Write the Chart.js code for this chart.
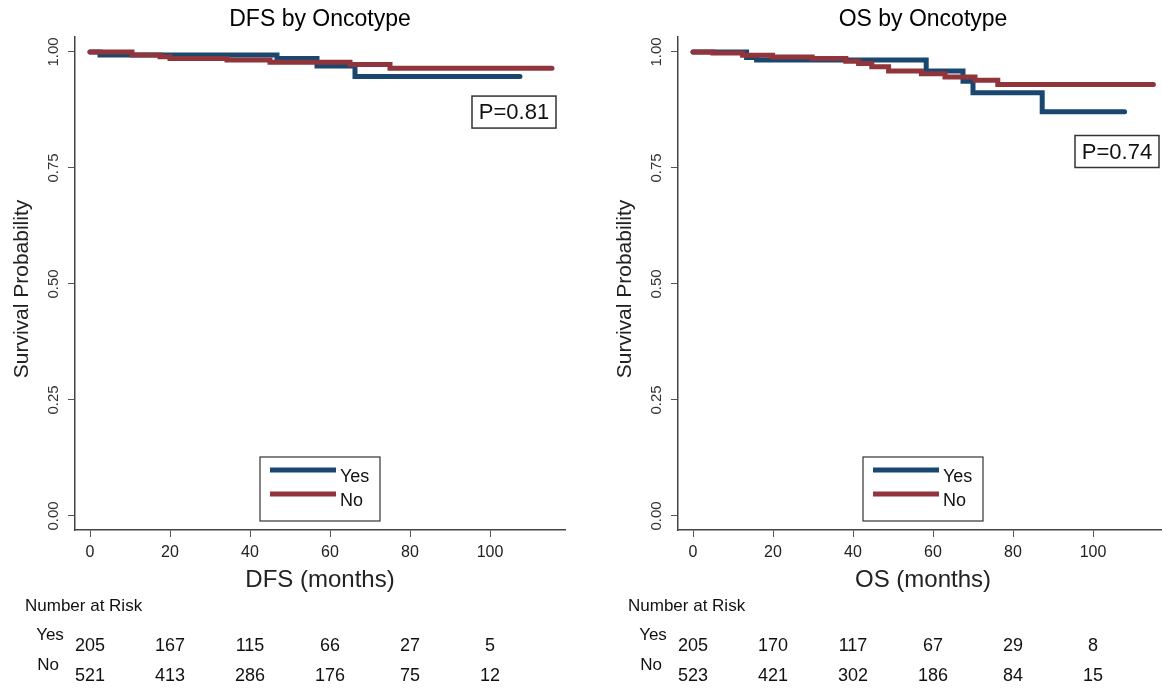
<!DOCTYPE html>
<html><head><meta charset="utf-8">
<script src="https://cdn.jsdelivr.net/npm/chart.js@4.4.1/dist/chart.umd.min.js"></script>
<style>
html,body{margin:0;padding:0;background:#fff;overflow:hidden;width:1162px;height:690px;position:relative}
.panel{position:absolute;top:0;width:600px;height:690px}
</style></head><body>
<div class="panel" style="left:0"><canvas id="c1" width="600" height="690"></canvas></div>
<div class="panel" style="left:603px"><canvas id="c2" width="600" height="690"></canvas></div>
<script>
// ---- data ----
const xTickVals = [0, 20, 40, 60, 80, 100];
const yTickVals = [0, 0.25, 0.5, 0.75, 1];
const riskTimes = [0, 20, 40, 60, 80, 100];
const groupNames = ['Yes', 'No'];

const dfsYesTime = [0, 2.5, 46.75, 56.75, 66.25, 107.5];
const dfsYesSurv = [1, 0.9935, 0.986, 0.970, 0.947, 0.947];
const dfsNoTime  = [0, 10.5, 17.5, 20, 34.25, 45, 65, 75, 115.5];
const dfsNoSurv  = [1, 0.9935, 0.990, 0.986, 0.983, 0.978, 0.973, 0.965, 0.965];

const osYesTime = [0, 13.4, 15.9, 58.3, 67.5, 70, 87.3, 107.9];
const osYesSurv = [1, 0.988, 0.983, 0.959, 0.937, 0.912, 0.871, 0.871];
const osNoTime  = [0, 5, 12.4, 19.9, 29.8, 38.2, 41.4, 44.7, 48.9, 57.1, 63, 70.5, 76.2, 115.1];
const osNoSurv  = [1, 0.998, 0.993, 0.989, 0.986, 0.980, 0.975, 0.968, 0.959, 0.953, 0.946, 0.939, 0.930, 0.930];

const dfsRiskYes = [205, 167, 115, 66, 27, 5];
const dfsRiskNo  = [521, 413, 286, 176, 75, 12];
const osRiskYes  = [205, 170, 117, 67, 29, 8];
const osRiskNo   = [523, 421, 302, 186, 84, 15];

const dfsP = 'P=0.81';
const osP  = 'P=0.74';

// ---- styling ----
const BLUE = '#1a476f';
const RED = '#90353b';
const FONT = '"Liberation Sans", Arial, sans-serif';

function pts(t, s) { return t.map((v, i) => ({ x: v, y: s[i] })); }

const decor = {
  id: 'kmDecor',
  afterDraw(chart) {
    const o = chart.options.plugins.kmDecor;
    const ctx = chart.ctx;
    const xs = chart.scales.x, ys = chart.scales.y;
    const ca = chart.chartArea;
    const cx = (ca.left + ca.right) / 2;
    ctx.save();
    // title
    ctx.fillStyle = '#000';
    ctx.font = '23px ' + FONT;
    ctx.textAlign = 'center';
    ctx.textBaseline = 'middle';
    ctx.fillText(o.title, cx, 20);
    // y tick labels (rotated)
    ctx.fillStyle = '#333';
    ctx.font = '15px ' + FONT;
    yTickVals.forEach(v => {
      const y = ys.getPixelForValue(v);
      ctx.save();
      ctx.translate(54, y);
      ctx.rotate(-Math.PI / 2);
      ctx.fillText(v.toFixed(2), 0, 0);
      ctx.restore();
    });
    // y axis title
    ctx.fillStyle = '#222';
    ctx.font = '21px ' + FONT;
    ctx.save();
    ctx.translate(22, 289);
    ctx.rotate(-Math.PI / 2);
    ctx.fillText('Survival Probability', 0, 0);
    ctx.restore();
    // x axis title
    ctx.font = '24px ' + FONT;
    ctx.fillText(o.xTitle, cx, 580);
    // P box
    const px = xs.getPixelForValue(95.5);
    const py = ys.getPixelForValue(o.pTop);
    ctx.fillStyle = '#fff';
    ctx.fillRect(px, py, 84, 32);
    ctx.strokeStyle = '#333';
    ctx.lineWidth = 1.5;
    ctx.strokeRect(px, py, 84, 32);
    ctx.fillStyle = '#111';
    ctx.font = '22px ' + FONT;
    ctx.fillText(o.pText, px + 42, py + 17);
    // legend
    const lw = 120, lh = 64;
    const lx = cx - lw / 2, ly = 457;
    ctx.fillStyle = '#fff';
    ctx.fillRect(lx, ly, lw, lh);
    ctx.strokeStyle = '#333';
    ctx.lineWidth = 1.2;
    ctx.strokeRect(lx, ly, lw, lh);
    const cols = [BLUE, RED];
    ctx.font = '18px ' + FONT;
    ctx.textAlign = 'left';
    groupNames.forEach((g, i) => {
      const yy = ly + 13 + i * 24;
      ctx.strokeStyle = cols[i];
      ctx.lineWidth = 5;
      ctx.beginPath();
      ctx.moveTo(lx + 10, yy);
      ctx.lineTo(lx + 76, yy);
      ctx.stroke();
      ctx.fillStyle = '#111';
      ctx.fillText(g, lx + 80, yy + 7);
    });
    // risk table
    ctx.fillStyle = '#111';
    ctx.font = '17px ' + FONT;
    ctx.textAlign = 'left';
    ctx.fillText('Number at Risk', 25, 606);
    ctx.textAlign = 'center';
    ctx.fillText(groupNames[0], 50, 635);
    ctx.fillText(groupNames[1], 48, 665);
    ctx.font = '18px ' + FONT;
    riskTimes.forEach((t, i) => {
      const x = xs.getPixelForValue(t);
      ctx.fillText(String(o.riskYes[i]), x, 646);
      ctx.fillText(String(o.riskNo[i]), x, 676);
    });
    ctx.restore();
  }
};

function makeChart(id, yesT, yesS, noT, noS, cfg) {
  return new Chart(document.getElementById(id), {
    type: 'line',
    data: {
      datasets: [
        { label: groupNames[0], data: pts(yesT, yesS), borderColor: BLUE, order: 1 },
        { label: groupNames[1], data: pts(noT, noS), borderColor: RED, order: 0 }
      ]
    },
    options: {
      responsive: false,
      animation: false,
      layout: { padding: { left: 0, right: 35, top: 37, bottom: 0 } },
      elements: {
        line: { borderWidth: 5, stepped: true, fill: false, tension: 0, borderCapStyle: 'round', borderJoinStyle: 'miter' },
        point: { radius: 0 }
      },
      scales: {
        x: {
          type: 'linear',
          min: -3.75, max: 118.75,
          afterBuildTicks: a => { a.ticks = xTickVals.map(v => ({ value: v })); },
          afterFit: a => { a.height = 160; },
          ticks: { color: '#222', font: { size: 16, family: FONT }, padding: 6, autoSkip: false, maxRotation: 0, callback: v => String(v) },
          grid: { drawOnChartArea: false, drawTicks: true, tickLength: 7, color: '#555', lineWidth: 1 },
          border: { display: true, color: '#444', width: 1.5 }
        },
        y: {
          type: 'linear',
          min: -0.0302, max: 1.0323,
          afterBuildTicks: a => { a.ticks = yTickVals.map(v => ({ value: v })); },
          afterFit: a => { a.width = 75; },
          ticks: { display: false },
          grid: { drawOnChartArea: false, drawTicks: true, tickLength: 7, color: '#555', lineWidth: 1 },
          border: { display: true, color: '#444', width: 1.5 }
        }
      },
      plugins: {
        legend: { display: false },
        tooltip: { enabled: false },
        kmDecor: cfg
      }
    },
    plugins: [decor]
  });
}

makeChart('c1', dfsYesTime, dfsYesSurv, dfsNoTime, dfsNoSurv,
  { title: 'DFS by Oncotype', xTitle: 'DFS (months)', pText: dfsP, pTop: 0.905, riskYes: dfsRiskYes, riskNo: dfsRiskNo });
makeChart('c2', osYesTime, osYesSurv, osNoTime, osNoSurv,
  { title: 'OS by Oncotype', xTitle: 'OS (months)', pText: osP, pTop: 0.82, riskYes: osRiskYes, riskNo: osRiskNo });
</script>
</body></html>
